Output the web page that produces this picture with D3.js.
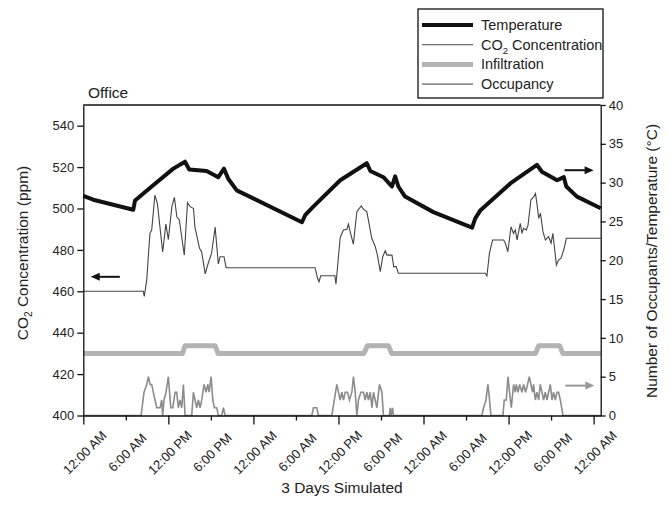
<!DOCTYPE html>
<html>
<head>
<meta charset="utf-8">
<script src="https://cdn.jsdelivr.net/npm/d3@7"></script>
<style>
	body { margin: 0; background: #fff; }
	svg { font-family: "Liberation Sans", Arial, sans-serif; }
</style>
</head>
<body>
<div id="chart"></div>
<script>
// hours since midnight of day 1
let temperature = [
	[0, 28.3], [1.4, 27.8], [7.05, 26.5], [7.3, 27.7], [9.65, 29.5], [12.7, 31.8],
	[14.35, 32.7], [14.95, 31.7], [17.4, 31.5], [19.05, 30.7], [19.85, 31.8], [20.45, 30.5],
	[21.65, 29.0], [30.85, 24.9], [31.3, 25.8], [32.45, 26.9], [36.25, 30.3], [40.0, 32.5],
	[40.5, 31.5], [42.35, 30.7], [43.55, 29.5], [44.0, 30.8], [44.45, 29.5], [45.4, 28.2],
	[49.4, 26.2], [54.85, 24.2], [55.3, 25.4], [56.0, 26.4], [60.25, 29.9], [64.0, 32.3],
	[64.7, 31.4], [66.85, 30.3], [67.8, 30.7], [68.15, 29.5], [69.65, 28.2], [73, 26.7]
];

let co2 = [
	[0, 460], [8.47, 460], [8.6, 457.5], [8.95, 465.5], [9.4, 488], [9.65, 489.6],
	[10.1, 506.5], [10.45, 502.5], [11.2, 479], [11.65, 492.5], [12.0, 485], [12.5, 501],
	[12.85, 505.4], [13.2, 496], [13.55, 494.4], [14.25, 477.5], [14.7, 502.8], [15.05, 501],
	[15.55, 500], [15.75, 491], [16.4, 480.8], [16.7, 479], [17.2, 468.4], [17.55, 472.7],
	[18.1, 478.4], [18.6, 491], [19.05, 473.2], [19.3, 476.7], [19.85, 476.7], [20.15, 471.4],
	[32.7, 471.4], [33.05, 466.3], [33.25, 464.6], [33.5, 467.5], [35.5, 467.5], [35.65, 463.5],
	[36.0, 476.7], [36.25, 486], [36.7, 489.6], [37.2, 490], [37.4, 492.4], [37.65, 488.8],
	[38.1, 482.8], [38.6, 498.5], [39.2, 501.2], [39.55, 499.6], [40.0, 498.5], [40.7, 485.6],
	[41.2, 481.5], [41.5, 477.5], [41.9, 469.5], [42.25, 476.7], [42.6, 479.6], [42.85, 477.5],
	[43.55, 477.5], [43.8, 471.9], [44.15, 471.9], [44.45, 468.7], [56.7, 468.7], [56.95, 467.4],
	[57.3, 478.4], [57.75, 484.8], [59.3, 484.8], [59.55, 483.2], [59.9, 479.1], [60.35, 491.2],
	[60.7, 488], [60.95, 489.6], [61.2, 484.8], [61.65, 492.8], [61.9, 488], [62.1, 490.4],
	[62.5, 489.6], [62.75, 492], [63.15, 504.1], [63.55, 505.7], [63.8, 507.3], [64.0, 502.5],
	[64.25, 495.3], [64.5, 497.7], [64.85, 488.8], [65.2, 484.8], [65.65, 486.4], [66.0, 483.2],
	[66.25, 488], [66.75, 472.7], [67.05, 475.1], [67.4, 476], [67.85, 480.8], [68.15, 485.6],
	[73, 485.6]
];

let infiltration = [
	[0, 8], [14.0, 8], [14.35, 9], [18.6, 9], [19.0, 8], [39.6, 8], [40.1, 9], [43.05, 9],
	[43.5, 8], [63.8, 8], [64.25, 9], [67.2, 9], [67.65, 8], [73, 8]
];

let occupancy = [
	[0, 0], [8.15, 0], [8.57, 3], [8.95, 4], [9.18, 5], [9.42, 4], [9.65, 4], [9.88, 3],
	[10.12, 2], [10.36, 1], [10.83, 1], [11.06, 2], [11.2, 0], [11.39, 2], [11.67, 3], [12.0, 5],
	[12.34, 1], [12.62, 1], [12.95, 3], [13.18, 3], [13.41, 1], [13.65, 2], [13.89, 1], [14.12, 4],
	[14.36, 0], [15.3, 0], [15.53, 3], [15.77, 2], [16.0, 1], [16.24, 2], [16.48, 1], [16.71, 2],
	[17.04, 4], [17.32, 3], [17.56, 4], [17.75, 3], [18.03, 5], [18.27, 2], [18.49, 1], [18.83, 1],
	[19.06, 0], [19.54, 0], [19.77, 1], [20.0, 0], [32.24, 0], [32.47, 1], [32.95, 1], [33.18, 0],
	[35.07, 0], [35.77, 4], [36.24, 2], [36.48, 3], [36.71, 2], [36.95, 3], [37.27, 3], [37.55, 2],
	[37.89, 3], [38.12, 5], [38.36, 3], [38.6, 0], [38.82, 2], [39.16, 3], [39.53, 3], [39.77, 2],
	[40.0, 3], [40.24, 2], [40.48, 3], [40.72, 1], [40.94, 3], [41.18, 2], [41.42, 1], [41.79, 4],
	[42.13, 3], [42.35, 0], [43.2, 0], [43.3, 1], [43.44, 0], [43.63, 1], [43.77, 0], [56.24, 0],
	[56.47, 1], [56.81, 2], [57.09, 4], [57.32, 2], [57.51, 0], [59.21, 0], [59.39, 2], [59.68, 2],
	[59.92, 5], [60.14, 3], [60.38, 1], [60.71, 4], [60.95, 3], [61.09, 4], [61.33, 3], [61.56, 4],
	[61.89, 3], [62.12, 4], [62.4, 3], [62.68, 4], [62.92, 5], [63.16, 4], [63.39, 3], [63.53, 4],
	[63.77, 2], [64.0, 3], [64.24, 2], [64.48, 4], [64.72, 3], [64.94, 2], [65.18, 3], [65.42, 2],
	[65.65, 3], [65.89, 4], [66.13, 2], [66.35, 3], [66.59, 2], [66.83, 3], [67.06, 3], [67.3, 2],
	[67.68, 0], [73, 0]
];

let xTicks = [0, 6, 12, 18, 24, 30, 36, 42, 48, 54, 60, 66, 72];
let xTickLabels = ["12:00 AM", "6:00 AM", "12:00 PM", "6:00 PM"];
let leftTicks = [400, 420, 440, 460, 480, 500, 520, 540];
let rightTicks = [0, 5, 10, 15, 20, 25, 30, 35, 40];
let legendItems = ["Temperature", "CO2 Concentration", "Infiltration", "Occupancy"];

let width = 670;
let height = 515;
let margin = { top: 105, right: 69.3, bottom: 99.5, left: 83.3 };

let x = d3.scaleLinear().domain([0, 73]).range([margin.left, width - margin.right]);
let yLeft = d3.scaleLinear().domain([400, 550]).range([height - margin.bottom, margin.top]);
let yRight = d3.scaleLinear().domain([0, 40]).range([height - margin.bottom, margin.top]);

let svg = d3
	.select("#chart")
	.append("svg")
	.attr("width", width)
	.attr("height", height);

// series styles, in legend order
let styles = [
	{ stroke: "#111", width: 4 },
	{ stroke: "#444", width: 1.1 },
	{ stroke: "#b3b3b3", width: 5 },
	{ stroke: "#8c8c8c", width: 1.6 },
];

let lineRight = d3.line().x((d) => x(d[0])).y((d) => yRight(d[1]));
let lineLeft = d3.line().x((d) => x(d[0])).y((d) => yLeft(d[1]));

let plot = svg.append("g");

plot.append("path")
	.datum(infiltration)
	.attr("d", lineRight)
	.attr("fill", "none")
	.attr("stroke", styles[2].stroke)
	.attr("stroke-width", styles[2].width)
	.attr("stroke-linejoin", "round");

plot.append("path")
	.datum(occupancy)
	.attr("d", lineRight)
	.attr("fill", "none")
	.attr("stroke", styles[3].stroke)
	.attr("stroke-width", styles[3].width);

plot.append("path")
	.datum(co2)
	.attr("d", lineLeft)
	.attr("fill", "none")
	.attr("stroke", styles[1].stroke)
	.attr("stroke-width", styles[1].width);

plot.append("path")
	.datum(temperature)
	.attr("d", lineRight)
	.attr("fill", "none")
	.attr("stroke", styles[0].stroke)
	.attr("stroke-width", styles[0].width)
	.attr("stroke-linejoin", "round");

// frame top line
svg.append("line")
	.attr("x1", x(0))
	.attr("x2", x(73))
	.attr("y1", yRight(40))
	.attr("y2", yRight(40))
	.attr("stroke", "#111")
	.attr("stroke-width", 1.3);

// axes
let x_axis = svg.append("g")
	.attr("transform", `translate(0,${height - margin.bottom})`)
	.call(
		d3.axisBottom(x)
			.tickValues(xTicks)
			.tickSize(9)
			.tickSizeOuter(0)
			.tickFormat((d, i) => xTickLabels[i % 4]),
	);
x_axis.selectAll(".tick line").attr("y2", (d, i) => (i % 2 ? 5 : 9));
// rotated labels are centred under their tick
x_axis.selectAll(".tick text")
	.attr("x", 0)
	.attr("y", 0)
	.attr("dy", "0.35em")
	.attr("text-anchor", "middle")
	.attr("transform", "translate(1,37) rotate(-45)");

svg.append("g")
	.attr("transform", `translate(${margin.left},0)`)
	.call(d3.axisLeft(yLeft).tickValues(leftTicks).tickSize(6).tickSizeOuter(0));

svg.append("g")
	.attr("transform", `translate(${width - margin.right},0)`)
	.call(d3.axisRight(yRight).tickValues(rightTicks).tickSize(5).tickSizeOuter(0));

svg.selectAll(".domain").attr("stroke", "#111").attr("stroke-width", 1.3);
svg.selectAll(".tick line").attr("stroke", "#111").attr("stroke-width", 1.3);
svg.selectAll(".tick text").attr("font-size", 13).attr("fill", "#222").attr("font-family", null);

// titles
svg.append("text")
	.attr("x", 88)
	.attr("y", 98)
	.attr("font-size", 15.5)
	.attr("fill", "#222")
	.text("Office");

svg.append("text")
	.attr("x", (x(0) + x(73)) / 2)
	.attr("y", 493)
	.attr("text-anchor", "middle")
	.attr("font-size", 15.5)
	.attr("fill", "#222")
	.text("3 Days Simulated");

let leftTitle = svg.append("text")
	.attr("transform", "translate(28,253) rotate(-90)")
	.attr("text-anchor", "middle")
	.attr("font-size", 15.5)
	.attr("fill", "#222");
leftTitle.append("tspan").text("CO");
leftTitle.append("tspan").attr("font-size", 10).attr("dy", 4).text("2");
leftTitle.append("tspan").attr("dy", -4).text(" Concentration (ppm)");

svg.append("text")
	.attr("transform", "translate(657,261) rotate(-90)")
	.attr("text-anchor", "middle")
	.attr("font-size", 15.5)
	.attr("fill", "#222")
	.text("Number of Occupants/Temperature (°C)");

// arrows pointing to each series axis
function arrow(x1, x2, y, color) {
	let dir = x2 > x1 ? 1 : -1;
	svg.append("line")
		.attr("x1", x1)
		.attr("x2", x2 - dir * 6)
		.attr("y1", y)
		.attr("y2", y)
		.attr("stroke", color)
		.attr("stroke-width", 2);
	svg.append("path")
		.attr("d", `M${x2},${y} L${x2 - dir * 9},${y - 4} L${x2 - dir * 9},${y + 4} Z`)
		.attr("fill", color);
}
arrow(x(5.15), x(1.05), yLeft(467), "#111");
arrow(x(67.9), x(72.0), yRight(31.6), "#111");
arrow(x(68.0), x(72.1), yRight(3.85), "#999");

// legend
let legend = svg.append("g");
legend.append("rect")
	.attr("x", 418)
	.attr("y", 9)
	.attr("width", 185)
	.attr("height", 89)
	.attr("fill", "#fff")
	.attr("stroke", "#111")
	.attr("stroke-width", 1.3);

legendItems.forEach((name, i) => {
	let ly = 25 + i * 19.7;
	legend.append("line")
		.attr("x1", 422)
		.attr("x2", 473)
		.attr("y1", ly)
		.attr("y2", ly)
		.attr("stroke", styles[i].stroke)
		.attr("stroke-width", styles[i].width);
	let t = legend.append("text")
		.attr("x", 481)
		.attr("y", ly + 5)
		.attr("font-size", 14.5)
		.attr("fill", "#222");
	if (name.startsWith("CO2")) {
		t.append("tspan").text("CO");
		t.append("tspan").attr("font-size", 9.5).attr("dy", 4).text("2");
		t.append("tspan").attr("dy", -4).text(" Concentration");
	} else {
		t.text(name);
	}
});
</script>
</body>
</html>
